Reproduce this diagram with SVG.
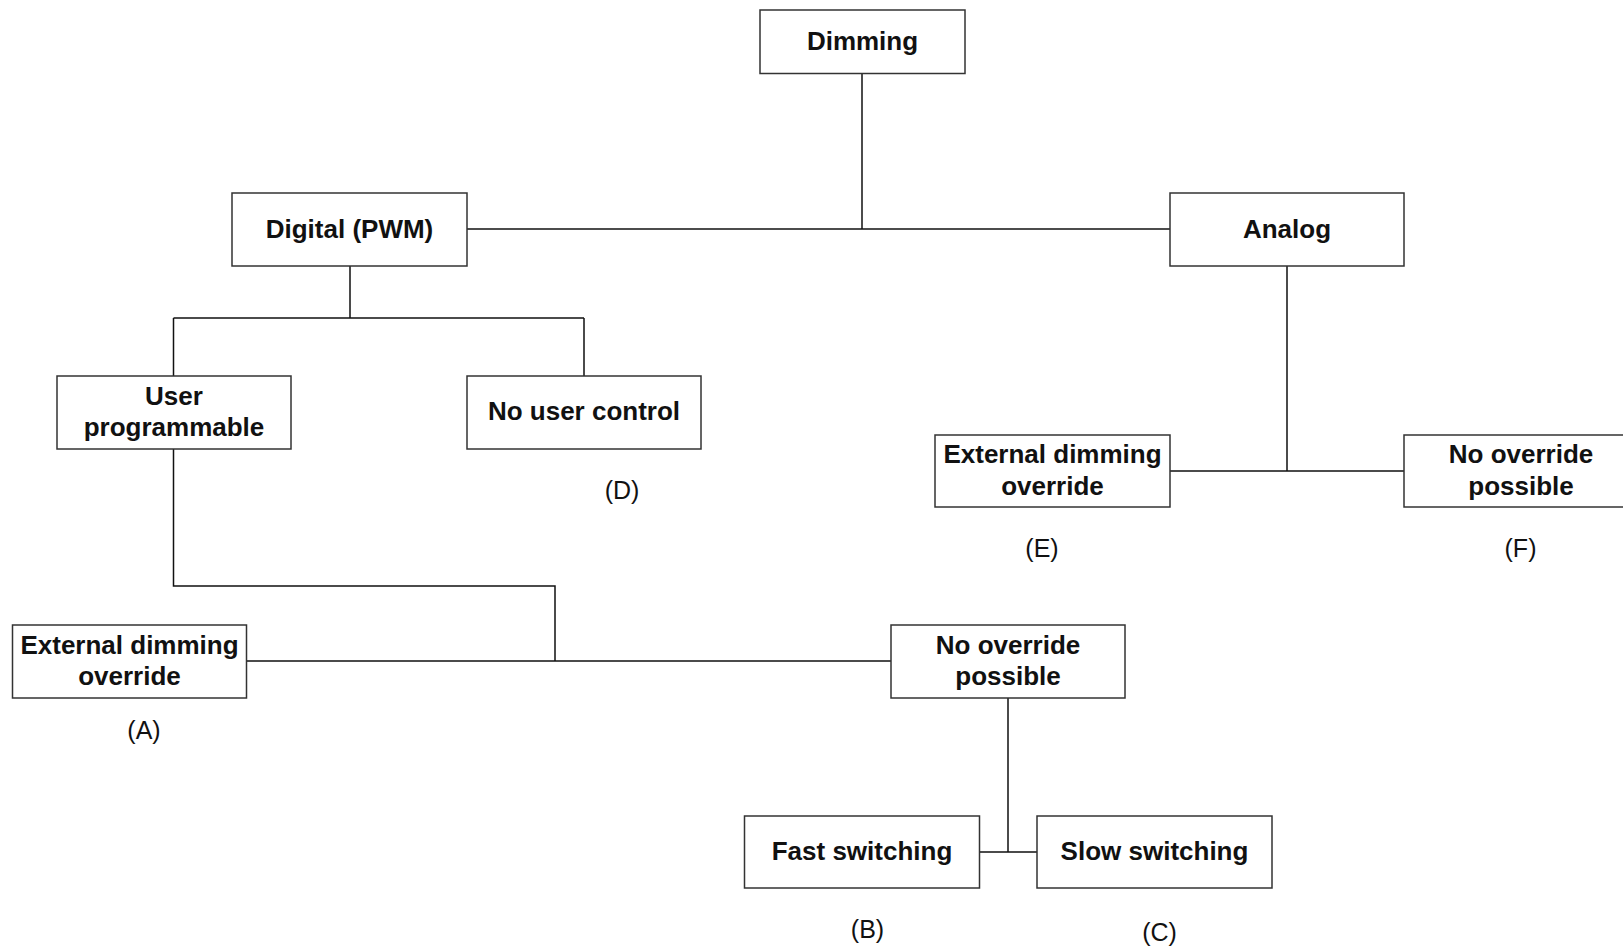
<svg xmlns="http://www.w3.org/2000/svg" width="1623" height="947" viewBox="0 0 1623 947">
  <style>
    .box { fill: #ffffff; stroke: #333333; stroke-width: 1.5; }
    .lbl { font-family: "Liberation Sans", Arial, sans-serif; font-weight: bold; font-size: 26px; fill: #111111; text-anchor: middle; }
    .tag { font-family: "Liberation Sans", Arial, sans-serif; font-size: 25px; fill: #111111; text-anchor: middle; }
    .wire { fill: none; stroke: #111111; stroke-width: 1.5; }
  </style>
  <rect width="1623" height="947" fill="#ffffff"/>

  <!-- tree connectors -->
  <g id="connectors">
    <path class="wire" d="M862 73.5 V229"/>
    <path class="wire" d="M467 229 H1170"/>
    <path class="wire" d="M350 266 V318 M173.5 318 H584 M173.5 318 V376 M584 318 V376"/>
    <path class="wire" d="M173.5 449 V586 H555 V661 M246 661 H891"/>
    <path class="wire" d="M1008 698 V852 M979 852 H1037"/>
    <path class="wire" d="M1287 266 V471 M1170 471 H1404"/>
  </g>

  <g id="dimming">
    <rect class="box" x="760" y="10" width="205" height="63.5"/>
    <text class="lbl" x="862.5" y="50">Dimming</text>
  </g>

  <g id="digital">
    <rect class="box" x="232" y="193" width="235" height="73"/>
    <text class="lbl" x="349.5" y="237.5">Digital (PWM)</text>
  </g>

  <g id="analog">
    <rect class="box" x="1170" y="193" width="234" height="73"/>
    <text class="lbl" x="1287" y="237.5">Analog</text>
  </g>

  <g id="user-programmable">
    <rect class="box" x="57" y="376" width="234" height="73"/>
    <text class="lbl" x="174" y="405">User</text>
    <text class="lbl" x="174" y="436">programmable</text>
  </g>

  <g id="no-user-control">
    <rect class="box" x="467" y="376" width="234" height="73"/>
    <text class="lbl" x="584" y="420">No user control</text>
    <text class="tag" x="622" y="498.5">(D)</text>
  </g>

  <g id="analog-external">
    <rect class="box" x="935" y="435" width="235" height="72"/>
    <text class="lbl" x="1052.5" y="463">External dimming</text>
    <text class="lbl" x="1052.5" y="495">override</text>
    <text class="tag" x="1042" y="556.5">(E)</text>
  </g>

  <g id="analog-no-override">
    <rect class="box" x="1404" y="435" width="236" height="72"/>
    <text class="lbl" x="1521" y="463">No override</text>
    <text class="lbl" x="1521" y="495">possible</text>
    <text class="tag" x="1520.5" y="556.5">(F)</text>
  </g>

  <g id="digital-external">
    <rect class="box" x="12.5" y="625" width="234" height="73"/>
    <text class="lbl" x="129.5" y="654">External dimming</text>
    <text class="lbl" x="129.5" y="685">override</text>
    <text class="tag" x="144" y="738.5">(A)</text>
  </g>

  <g id="digital-no-override">
    <rect class="box" x="891" y="625" width="234" height="73"/>
    <text class="lbl" x="1008" y="654">No override</text>
    <text class="lbl" x="1008" y="685">possible</text>
  </g>

  <g id="fast-switching">
    <rect class="box" x="744.5" y="816" width="235" height="72"/>
    <text class="lbl" x="862" y="859.5">Fast switching</text>
    <text class="tag" x="867.5" y="937.5">(B)</text>
  </g>

  <g id="slow-switching">
    <rect class="box" x="1037" y="816" width="235" height="72"/>
    <text class="lbl" x="1154.5" y="859.5">Slow switching</text>
    <text class="tag" x="1159.5" y="940.5">(C)</text>
  </g>
</svg>
